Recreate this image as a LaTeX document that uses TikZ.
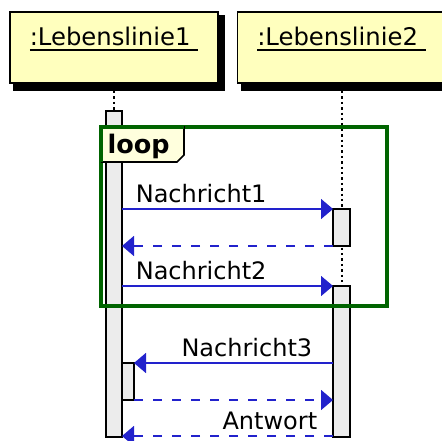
\documentclass[tikz,border=0pt]{standalone}
\usepackage{fontspec}
\setmainfont{DejaVu Sans}
\usetikzlibrary{arrows.meta,backgrounds}
\definecolor{kopfgelb}{RGB}{255,255,190}
\definecolor{reitergelb}{RGB}{255,255,221}
\definecolor{aktgrau}{RGB}{236,236,236}
\definecolor{pfeilblau}{RGB}{34,34,204}
\definecolor{rahmengruen}{RGB}{0,100,0}
% unterstrichener Name mit Leerzeichen am Ende
\newcommand\lbname[1]{\setbox0\hbox{#1\ }\rlap{\rule[-5pt]{\wd0}{1.6pt}}\box0}
\tikzset{
	kopf/.style={draw,line width=1.6pt,fill=kopfgelb,minimum width=208,minimum height=71,
		inner sep=0pt,outer sep=0pt,text height=18pt,text depth=21pt,font=\fontsize{24.3}{28}\selectfont},
	akt/.style={draw,line width=1.6pt,fill=aktgrau,inner sep=0pt,outer sep=0pt,anchor=north west},
	linie/.style={line width=2pt,dash pattern=on 2.4pt off 3pt},
	msg/.style={pfeilblau,line width=1.6pt,-{Triangle[length=12pt,width=20pt]}},
	antw/.style={msg,dash pattern=on 9pt off 10pt},
	txt/.style={black,inner sep=0pt,font=\fontsize{24}{28}\selectfont}
}
\begin{document}
\begin{tikzpicture}[x=1pt,y=-1pt]
	\useasboundingbox (0,0) rectangle (442,441);
	% Koepfe
	\node[kopf] (kopf1) at (114,47.5) {\lbname{:Lebenslinie1}};
	\node[kopf] (kopf2) at (341.5,47.5) {\lbname{:Lebenslinie2}};
	% Aktivierungen
	\node[akt,minimum width=16,minimum height=326] (akt1) at (106,111) {};
	\node[akt,minimum width=17,minimum height=37] (akt2) at (333,209) {};
	\node[akt,minimum width=17,minimum height=151] (akt3) at (333,286) {};
	\node[akt,minimum width=12,minimum height=37] (akt4) at (122,363) {};
	\begin{pgfonlayer}{background}
		\foreach \k in {kopf1,kopf2}
		\fill ([shift={(3,3)}]\k.north west) rectangle ([shift={(7,8)}]\k.south east);
		\draw[linie] ([yshift=-8pt]kopf1.south) -- (akt1.north);
		\draw[linie] ([yshift=-8pt]kopf2.south) -- (akt3.north);
	\end{pgfonlayer}
	% Schleife
	\draw[rahmengruen,line width=3.5pt] (101,127) rectangle (387,306);
	\filldraw[fill=reitergelb,line width=1.6pt] (101,127) -- (184,127) -- (184,155) -- (177,162) -- (101,162);
	\draw[rahmengruen,line width=3.5pt] (101,162) -- (101,127) -- (184,127);
	\node[txt,anchor=base west,font=\fontsize{25.5}{30}\selectfont\bfseries] (loop) at (107.5,154) {loop};
	% Nachrichten
	\draw[msg] (akt1.east |- akt2.north) -- (akt2.north west)
		node[txt,pos=0,anchor=base west,xshift=13pt,yshift=6.5pt] {Nachricht1};
	\draw[antw] (akt2.south west) -- (akt1.east |- akt2.south);
	\draw[msg] (akt1.east |- akt3.north) -- (akt3.north west)
		node[txt,pos=0,anchor=base west,xshift=13pt,yshift=6.5pt] {Nachricht2};
	\draw[msg] (akt3.west |- akt4.north) -- (akt4.north east)
		node[txt,pos=0,anchor=base east,xshift=-20pt,yshift=6.5pt] {Nachricht3};
	\draw[antw] (akt4.south east) -- (akt3.west |- akt4.south);
	\draw[antw] ([yshift=1pt]akt3.south west) -- ([yshift=1pt]akt1.south east)
		node[txt,pos=0,anchor=base east,xshift=-15pt,yshift=6.5pt] {Antwort};
\end{tikzpicture}
\end{document}
